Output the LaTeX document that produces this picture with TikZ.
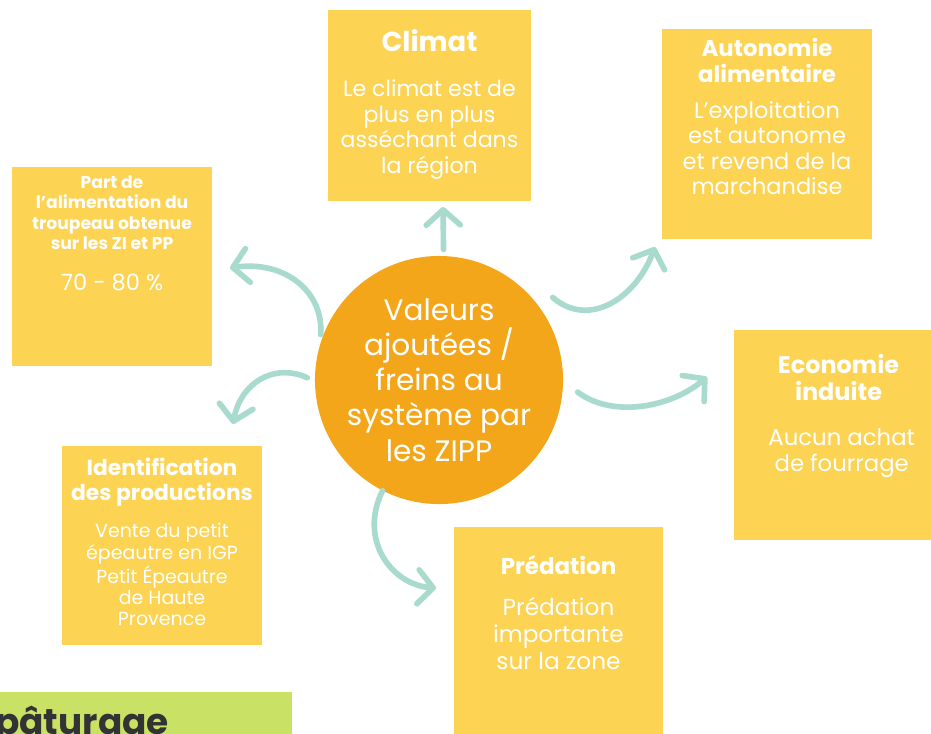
\documentclass[tikz,border=0pt]{standalone}
\usepackage{fontspec}
\setmainfont{Poppins}
\usetikzlibrary{arrows.meta,positioning,fit,calc}

\definecolor{boxyellow}{HTML}{FCD352}
\definecolor{corange}{HTML}{F4A61B}
\definecolor{arrowteal}{HTML}{A8DACD}
\definecolor{bargreen}{HTML}{C9E265}
\definecolor{darktext}{HTML}{333333}

\begin{document}
\begin{tikzpicture}[
    x=0.025cm, y=-0.025cm,
    box/.style={rectangle, fill=boxyellow, inner sep=0pt},
    title/.style={align=center, text=white, inner sep=0pt, font=\bfseries},
    body/.style={align=center, text=white, inner sep=0pt},
    flow/.style={draw=arrowteal, line width=4pt, line cap=round,
        -{Straight Barb[length=0.38cm, width=0.85cm, line width=4pt, round]}}
]
\useasboundingbox (0,0) rectangle (931,733);

% Central circle
\node[circle, fill=corange, minimum size=6.2cm, inner sep=0pt, align=center,
      text=white, font=\fontsize{21}{25}\selectfont] (centre) at (439,380)
      {Valeurs\\ajoutées /\\freins au\\système par\\les ZIPP};

% Boxes
\node[box, fit={(328,10) (531,201)}] (climat) {};
\node[box, fit={(662,29) (872,239)}] (autonomie) {};
\node[box, fit={(12,167) (212,366)}] (part) {};
\node[box, fit={(734,330) (931,540)}] (economie) {};
\node[box, fit={(62,446) (262,645)}] (identification) {};
\node[box, fit={(454,527) (663,740)}] (predation) {};
\node[rectangle, fill=bargreen, inner sep=0pt, fit={(0,692) (292,740)}] (bar) {};

% Climat
\node[title, font=\bfseries\fontsize{19.5}{22}\selectfont, below=0.5cm of climat.north] (climatTitle) {Climat};
\node[body, font=\fontsize{15.7}{18.2}\selectfont, below=0.68cm of climatTitle] (climatText)
    {Le climat est de\\plus en plus\\asséchant dans\\la région};

% Autonomie alimentaire
\node[title, font=\bfseries\fontsize{16.2}{19}\selectfont, below=0.22cm of autonomie.north] (autonomieTitle)
    {Autonomie\\alimentaire};
\node[body, font=\fontsize{16}{18}\selectfont, below=0.45cm of autonomieTitle] (autonomieText)
    {L'exploitation\\est autonome\\et revend de la\\marchandise};

% Part de l'alimentation
\node[title, font=\bfseries\fontsize{12.2}{14.4}\selectfont, below=0.22cm of part.north] (partTitle)
    {Part de\\l’alimentation du\\troupeau obtenue\\sur les ZI et PP};
\node[body, font=\fontsize{16}{18}\selectfont, below=0.6cm of partTitle] (partText) {70 - 80 \%};

% Economie induite
\node[title, font=\bfseries\fontsize{17}{19.2}\selectfont, below=0.62cm of economie.north, xshift=0.15cm] (economieTitle)
    {Economie\\induite};
\node[body, font=\fontsize{16.2}{18.4}\selectfont, below=0.68cm of economieTitle, xshift=0.08cm] (economieText)
    {Aucun achat\\de fourrage};

% Identification des productions
\node[title, font=\bfseries\fontsize{15.5}{17.7}\selectfont, below=0.3cm of identification.north] (identificationTitle)
    {Identification\\des productions};
\node[body, font=\fontsize{13.5}{15}\selectfont, below=0.42cm of identificationTitle] (identificationText)
    {Vente du petit\\épeautre en IGP\\Petit Épeautre\\de Haute\\Provence};

% Prédation
\node[title, font=\bfseries\fontsize{16.3}{18}\selectfont, below=0.72cm of predation.north] (predationTitle) {Prédation};
\node[body, font=\fontsize{16.5}{19}\selectfont, below=0.55cm of predationTitle] (predationText)
    {Prédation\\importante\\sur la zone};

% pâturage bar
\node[anchor=base west, inner sep=0pt, text=darktext, font=\bfseries\fontsize{25.5}{28}\selectfont]
    (barText) at (-5,734) {pâturage};

% Arrow ends
\coordinate (climatEnd) at (443,207);
\coordinate (partEnd) at (230,268);
\coordinate (identEnd) at (233,424);
\coordinate (autoEnd) at (655,247);
\coordinate (ecoEnd) at (707,377);
\coordinate (predEnd) at (436,588);

% Arrows
\draw[flow] ($(centre)!1.05!(centre.88)$) -- (climatEnd);
\draw[flow] ($(centre)!1.02!(centre.159)$) .. controls (324,292) and (285,260) .. (partEnd);
\draw[flow] ($(centre)!1.06!(centre.179)$) .. controls (272,362) and (240,385) .. (identEnd);
\draw[flow] ($(centre)!1.13!(centre.36)$) .. controls (588,328) and (635,300) .. (autoEnd);
\draw[flow] ($(centre)!1.12!(centre.-5)$) .. controls (612,418) and (670,408) .. (ecoEnd);
\draw[flow] (centre.243) .. controls (358,540) and (392,585) .. (predEnd);

\end{tikzpicture}
\end{document}
